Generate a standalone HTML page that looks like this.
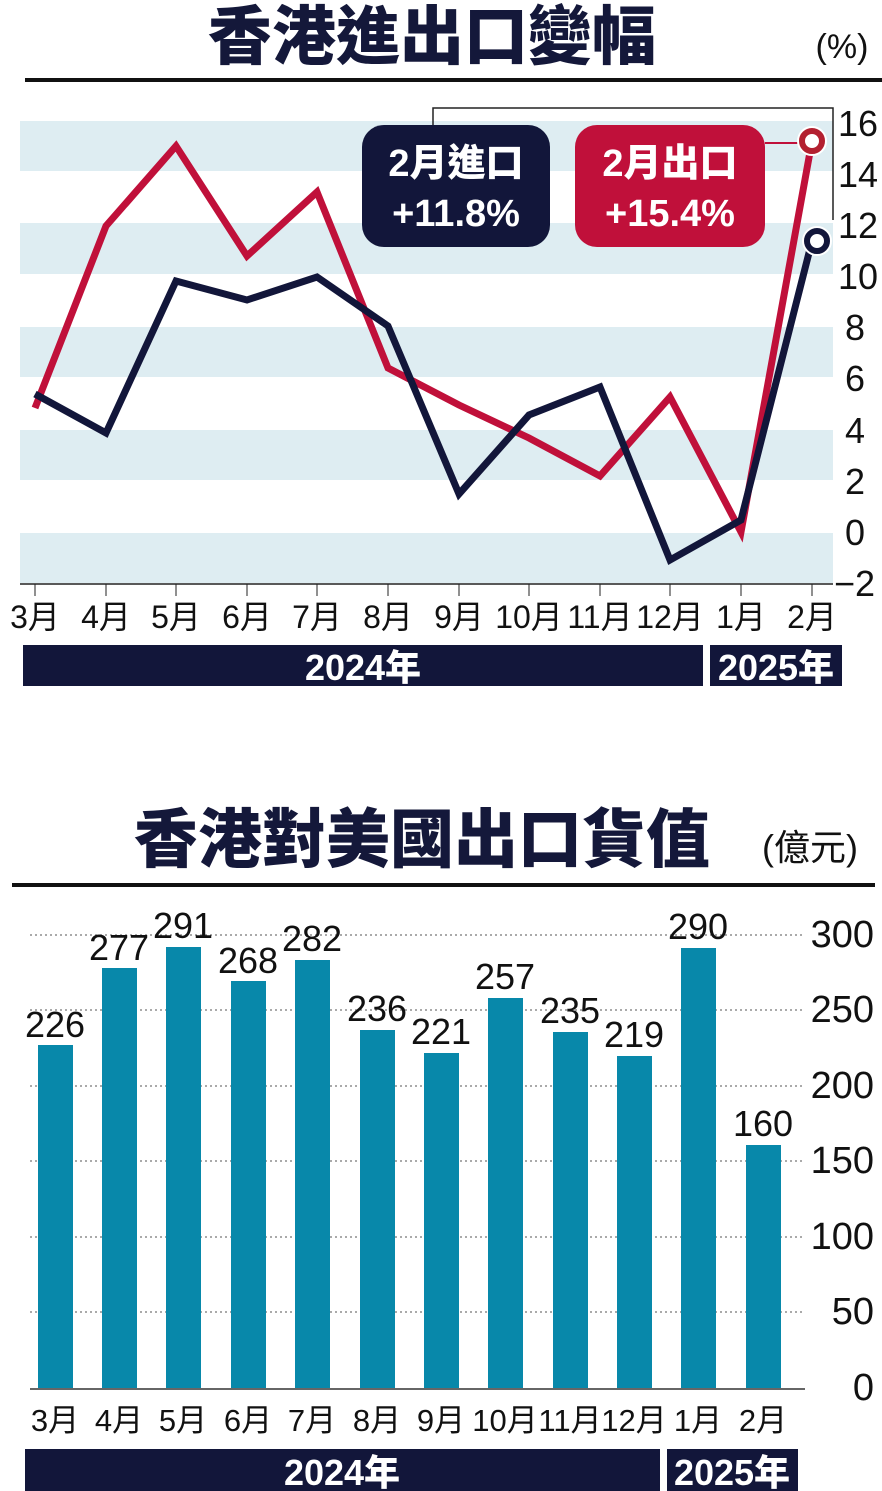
<!DOCTYPE html>
<html><head><meta charset="utf-8"><style>
body{margin:0;background:#fff;width:882px;height:1491px;overflow:hidden}
svg{display:block}
.n{font-family:"Liberation Sans Narrow","Liberation Sans","Noto Sans CJK TC",sans-serif}
.t{font-family:"Liberation Sans","Noto Sans CJK TC",sans-serif;font-weight:900}
</style></head><body>
<svg width="882" height="1491" viewBox="0 0 882 1491">
<!-- TOP -->
<text x="432" y="59" text-anchor="middle" class="t" font-size="64" fill="#14183a">香港進出口變幅</text>
<text x="842" y="58" text-anchor="middle" class="n" font-size="34" fill="#111">(%)</text>
<rect x="25" y="78" width="857" height="4" fill="#111"/>
<g fill="#deedf2">
<rect x="20" y="121" width="813" height="50"/>
<rect x="20" y="223" width="813" height="51"/>
<rect x="20" y="327" width="813" height="50"/>
<rect x="20" y="430" width="813" height="50"/>
<rect x="20" y="533" width="813" height="50"/>
</g>
<line x1="20" y1="584" x2="833" y2="584" stroke="#222" stroke-width="1.5"/>
<g stroke="#222" stroke-width="1">
<line x1="35" y1="584" x2="35" y2="596"/><line x1="106" y1="584" x2="106" y2="596"/><line x1="176" y1="584" x2="176" y2="596"/><line x1="247" y1="584" x2="247" y2="596"/><line x1="317" y1="584" x2="317" y2="596"/><line x1="388" y1="584" x2="388" y2="596"/><line x1="459" y1="584" x2="459" y2="596"/><line x1="529" y1="584" x2="529" y2="596"/><line x1="600" y1="584" x2="600" y2="596"/><line x1="670" y1="584" x2="670" y2="596"/><line x1="741" y1="584" x2="741" y2="596"/><line x1="812" y1="584" x2="812" y2="596"/>
</g>
<g class="n" font-size="36" fill="#111">
<text x="838" y="136">16</text><text x="838" y="187">14</text><text x="838" y="238">12</text><text x="838" y="289">10</text><text x="845" y="340">8</text><text x="845" y="391">6</text><text x="845" y="443">4</text><text x="845" y="494">2</text><text x="845" y="545">0</text><text x="834" y="596">−2</text>
</g>
<polyline points="433,125 433,108 833,108 833,220" fill="none" stroke="#222" stroke-width="1.5"/>
<line x1="765" y1="143" x2="812" y2="143" stroke="#c0103a" stroke-width="2"/>
<polyline fill="none" stroke="#c0103a" stroke-width="7" points="35,408 106,226 176,146 247,256 317,192 388,368 459,405 529,438 600,476 670,397 741,532 812,141"/>
<polyline fill="none" stroke="#12163a" stroke-width="7" points="35,394 106,433 176,281 247,300 317,277 388,326 459,494 529,415 600,387 670,560 741,520 812,241"/>
<circle cx="812" cy="141" r="12" fill="#fff" stroke="#fff" stroke-width="6"/>
<circle cx="812" cy="141" r="10" fill="#fff" stroke="#b32030" stroke-width="6"/>
<circle cx="817" cy="241" r="12" fill="#fff" stroke="#fff" stroke-width="6"/>
<circle cx="817" cy="241" r="10" fill="#fff" stroke="#12163a" stroke-width="6"/>
<rect x="362" y="125" width="188" height="122" rx="22" fill="#12163a"/>
<rect x="575" y="125" width="190" height="122" rx="22" fill="#c0103a"/>
<g class="t" font-size="38" fill="#fff" text-anchor="middle">
<text x="456" y="176">2月進口</text><text x="456" y="226">+11.8%</text>
<text x="670" y="176">2月出口</text><text x="670" y="226">+15.4%</text>
</g>
<g class="n" font-size="32" fill="#111" text-anchor="middle">
<text x="35" y="628">3月</text><text x="106" y="628">4月</text><text x="176" y="628">5月</text><text x="247" y="628">6月</text><text x="317" y="628">7月</text><text x="388" y="628">8月</text><text x="459" y="628">9月</text><text x="529" y="628">10月</text><text x="600" y="628">11月</text><text x="670" y="628">12月</text><text x="741" y="628">1月</text><text x="812" y="628">2月</text>
</g>
<rect x="23" y="645" width="680" height="41" fill="#12163a"/>
<rect x="710" y="645" width="132" height="41" fill="#12163a"/>
<g class="t" font-size="36" fill="#fff" text-anchor="middle"><text x="363" y="680">2024年</text><text x="776" y="680">2025年</text></g>

<!-- BOTTOM -->
<text x="422" y="862" text-anchor="middle" class="t" font-size="64" fill="#14183a">香港對美國出口貨值</text>
<text x="810" y="860" text-anchor="middle" class="n" font-size="36" fill="#111">(億元)</text>
<rect x="12" y="883" width="863" height="4" fill="#111"/>
<g stroke="#777" stroke-width="1.3" stroke-dasharray="2,3">
<line x1="30" y1="935" x2="805" y2="935"/><line x1="30" y1="1010" x2="805" y2="1010"/><line x1="30" y1="1086" x2="805" y2="1086"/><line x1="30" y1="1161" x2="805" y2="1161"/><line x1="30" y1="1237" x2="805" y2="1237"/><line x1="30" y1="1312" x2="805" y2="1312"/>
</g>
<g fill="#0888aa">
<rect x="38" y="1045" width="35" height="343"/><rect x="102" y="968" width="35" height="420"/><rect x="166" y="947" width="35" height="441"/><rect x="231" y="981" width="35" height="407"/><rect x="295" y="960" width="35" height="428"/><rect x="360" y="1030" width="35" height="358"/><rect x="424" y="1053" width="35" height="335"/><rect x="488" y="998" width="35" height="390"/><rect x="553" y="1032" width="35" height="356"/><rect x="617" y="1056" width="35" height="332"/><rect x="681" y="948" width="35" height="440"/><rect x="746" y="1145" width="35" height="243"/>
</g>
<line x1="30" y1="1389" x2="805" y2="1389" stroke="#333" stroke-width="1.5"/>
<g class="n" font-size="36" fill="#111" text-anchor="middle">
<text x="55" y="1037">226</text><text x="119" y="960">277</text><text x="183" y="938">291</text><text x="248" y="973">268</text><text x="312" y="951">282</text><text x="377" y="1021">236</text><text x="441" y="1044">221</text><text x="505" y="989">257</text><text x="570" y="1023">235</text><text x="634" y="1047">219</text><text x="698" y="939">290</text><text x="763" y="1136">160</text>
</g>
<g class="n" font-size="38" fill="#111" text-anchor="end">
<text x="874" y="947">300</text><text x="874" y="1022">250</text><text x="874" y="1098">200</text><text x="874" y="1173">150</text><text x="874" y="1249">100</text><text x="874" y="1324">50</text><text x="874" y="1400">0</text>
</g>
<g class="n" font-size="31" fill="#111" text-anchor="middle">
<text x="55" y="1431">3月</text><text x="119" y="1431">4月</text><text x="183" y="1431">5月</text><text x="248" y="1431">6月</text><text x="312" y="1431">7月</text><text x="377" y="1431">8月</text><text x="441" y="1431">9月</text><text x="505" y="1431">10月</text><text x="570" y="1431">11月</text><text x="634" y="1431">12月</text><text x="698" y="1431">1月</text><text x="763" y="1431">2月</text>
</g>
<rect x="25" y="1449" width="635" height="42" fill="#12163a"/>
<rect x="667" y="1449" width="131" height="42" fill="#12163a"/>
<g class="t" font-size="36" fill="#fff" text-anchor="middle"><text x="342" y="1485">2024年</text><text x="732" y="1485">2025年</text></g>
</svg>
</body></html>
